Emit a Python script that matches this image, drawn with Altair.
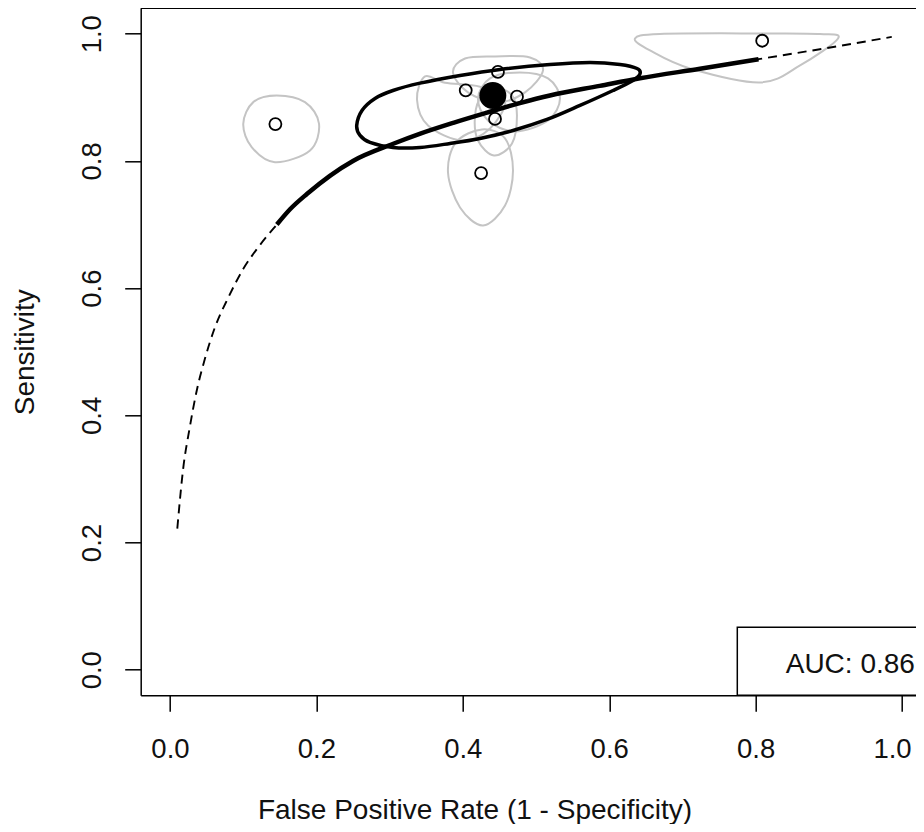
import altair as alt
import pandas as pd

# ---------------- data ----------------
# SROC curve (false positive rate, sensitivity)
curve_fpr = [0.010, 0.018, 0.027, 0.036, 0.048, 0.061, 0.080, 0.100, 0.123, 0.146,
             0.164, 0.187, 0.250, 0.305, 0.342, 0.387, 0.433, 0.478, 0.519, 0.587,
             0.642, 0.724, 0.804, 0.900, 0.986]
curve_sens = [0.222, 0.316, 0.381, 0.436, 0.490, 0.537, 0.586, 0.630, 0.668, 0.700,
              0.724, 0.748, 0.800, 0.827, 0.843, 0.860, 0.876, 0.891, 0.903, 0.918,
              0.930, 0.945, 0.960, 0.978, 0.995]
solid_from = 0.146
solid_to = 0.804

# individual studies
study_fpr = [0.144, 0.404, 0.448, 0.474, 0.444, 0.425, 0.809]
study_sens = [0.858, 0.911, 0.940, 0.901, 0.866, 0.781, 0.989]

# summary point
summary_fpr = [0.441]
summary_sens = [0.903]

# confidence region of the summary point
region_fpr = [0.2551, 0.2623, 0.2801, 0.3046, 0.3415, 0.3962, 0.4508, 0.5191, 0.5738,
              0.6148, 0.6380, 0.6421, 0.6325, 0.6052, 0.5601, 0.5150, 0.4686, 0.4235,
              0.3825, 0.3415, 0.3046, 0.2732, 0.2596]
region_sens = [0.8558, 0.8794, 0.8983, 0.9108, 0.9223, 0.9344, 0.9439, 0.9517, 0.9549,
               0.9517, 0.9454, 0.9371, 0.9266, 0.9108, 0.8873, 0.8652, 0.8479, 0.8354,
               0.8275, 0.8212, 0.8212, 0.8291, 0.8401]

# confidence ellipses of the individual studies (same order as the studies)
ellipse_fpr = [
    [0.1458, 0.1844, 0.2036, 0.1913, 0.1434, 0.1116, 0.1001, 0.1138],
    [0.3757, 0.4235, 0.4577, 0.4372, 0.3989, 0.3525, 0.3374, 0.3484],
    [0.4440, 0.4918, 0.5096, 0.4850, 0.4467, 0.4071, 0.3866, 0.4030],
    [0.4781, 0.5164, 0.5328, 0.5164, 0.4713, 0.4344, 0.4208, 0.4372],
    [0.4467, 0.4672, 0.4740, 0.4672, 0.4426, 0.4208, 0.4167, 0.4262],
    [0.4262, 0.4577, 0.4686, 0.4577, 0.4276, 0.3962, 0.3798, 0.3907],
    [0.6352, 0.6694, 0.8060, 0.8880, 0.9126, 0.8607, 0.8060, 0.7104, 0.6557],
]
ellipse_sens = [
    [0.9030, 0.8925, 0.8585, 0.8165, 0.7981, 0.8217, 0.8585, 0.8925],
    [0.9230, 0.9167, 0.8951, 0.8511, 0.8322, 0.8558, 0.8966, 0.9329],
    [0.9643, 0.9627, 0.9423, 0.9077, 0.8920, 0.9077, 0.9391, 0.9611],
    [0.9392, 0.9298, 0.8983, 0.8637, 0.8464, 0.8637, 0.8983, 0.9298],
    [0.9140, 0.9030, 0.8715, 0.8275, 0.8086, 0.8322, 0.8715, 0.9030],
    [0.8495, 0.8354, 0.7851, 0.7300, 0.6986, 0.7269, 0.7819, 0.8291],
    [0.9926, 0.9997, 1.0005, 0.9997, 0.9926, 0.9502, 0.9234, 0.9454, 0.9737],
]

auc_label = ["AUC: 0.86"]
x_ticks = [0.0, 0.2, 0.4, 0.6, 0.8, 1.0]
y_ticks = [0.0, 0.2, 0.4, 0.6, 0.8, 1.0]
x_title = "False Positive Rate (1 - Specificity)"
y_title = "Sensitivity"

# ---------------- tables ----------------
curve_df = pd.DataFrame({"fpr": curve_fpr, "sens": curve_sens})
solid_df = curve_df[(curve_df.fpr >= solid_from) & (curve_df.fpr <= solid_to)]
study_df = pd.DataFrame({"fpr": study_fpr, "sens": study_sens})
summary_df = pd.DataFrame({"fpr": summary_fpr, "sens": summary_sens})
region_df = pd.DataFrame({"fpr": region_fpr, "sens": region_sens,
                          "k": list(range(len(region_fpr)))})
rows = []
for i, (fx, fy) in enumerate(zip(ellipse_fpr, ellipse_sens)):
    for k, (a, b) in enumerate(zip(fx, fy)):
        rows.append({"study": i, "k": k, "fpr": a, "sens": b})
ellipse_df = pd.DataFrame(rows)
auc_df = pd.DataFrame({"label": auc_label})

# ---------------- layout ----------------
FONT = "Liberation Sans"
W = 775.3
H = 686.9
xs = alt.Scale(domain=[-0.04, 1.0191], nice=False, zero=False)
ys = alt.Scale(domain=[-0.04, 1.04], nice=False, zero=False)

x_axis = alt.Axis(values=x_ticks, format=".1f", title=x_title, grid=False,
                  domainColor="black", domainWidth=1.5, tickColor="black",
                  tickWidth=1.5, tickSize=16, labelFont=FONT, labelFontSize=27.5,
                  labelColor="#111111", labelPadding=24.6, labelBaseline="top",
                  labelAlign="center", labelFlush=False, labelOverlap=False,
                  labelBound=False,
                  labelOffset={"expr": "datum.value == 1 ? -10 : 0"},
                  titleFont=FONT, titleFontSize=28, titleFontWeight="normal",
                  titleColor="#111111", titleX=333.8, titleY=123,
                  titleAlign="center", titleBaseline="alphabetic")
y_axis = alt.Axis(values=y_ticks, format=".1f", title=y_title, grid=False,
                  domainColor="black", domainWidth=1.5, tickColor="black",
                  tickWidth=1.5, tickSize=16, labelFont=FONT, labelFontSize=27.5,
                  labelColor="#111111", labelPadding=24.7, labelAngle=270,
                  labelBaseline="alphabetic", labelAlign="center",
                  labelFlush=False, labelOverlap=False,
                  titleFont=FONT, titleFontSize=28, titleFontWeight="normal",
                  titleColor="#111111", titleAngle=270, titleX=-107.7,
                  titleY=343.4, titleAlign="center", titleBaseline="alphabetic")

X = alt.X("fpr:Q", scale=xs, axis=x_axis)
Y = alt.Y("sens:Q", scale=ys, axis=y_axis)

ellipses = alt.Chart(ellipse_df).mark_line(
    interpolate="cardinal-closed", color="#c4c4c4", strokeWidth=2
).encode(x=X, y=Y, detail="study:N", order="k:Q")

dashed = alt.Chart(curve_df).mark_line(
    color="black", strokeWidth=1.9, strokeDash=[9, 6], interpolate="monotone"
).encode(x=X, y=Y, order="fpr:Q")

solid = alt.Chart(solid_df).mark_line(
    color="black", strokeWidth=4.5, interpolate="monotone"
).encode(x=X, y=Y, order="fpr:Q")

region = alt.Chart(region_df).mark_line(
    interpolate="cardinal-closed", color="black", strokeWidth=3.5
).encode(x=X, y=Y, order="k:Q")

studies = alt.Chart(study_df).mark_point(
    shape="circle", filled=False, size=144, color="black", strokeWidth=1.8, opacity=1
).encode(x=X, y=Y)

summary = alt.Chart(summary_df).mark_circle(
    size=729, color="black", opacity=1
).encode(x=X, y=Y)

top_rule = alt.Chart(auc_df).mark_rule(color="black", strokeWidth=1.5).encode(
    x=alt.value(0), x2=alt.value(W), y=alt.value(0)
)

box = alt.Chart(auc_df).mark_rect(
    fill="white", stroke="black", strokeWidth=1.5
).encode(x=alt.value(596.6), x2=alt.value(W + 30), y=alt.value(619), y2=alt.value(H))

auc_text = alt.Chart(auc_df).mark_text(
    align="left", baseline="alphabetic", font=FONT, fontSize=28, color="#111111"
).encode(x=alt.value(645), y=alt.value(664.4), text="label:N")

chart = alt.layer(
    ellipses, dashed, solid, region, studies, summary, top_rule, box, auc_text
).properties(
    width=W, height=H,
    autosize=alt.AutoSizeParams(type="none"),
    padding={"left": 132.7, "top": 0.3, "right": 0, "bottom": 128.8},
).configure_view(strokeWidth=0)

chart.save("out.html", embed_options={"renderer": "svg", "actions": False})
